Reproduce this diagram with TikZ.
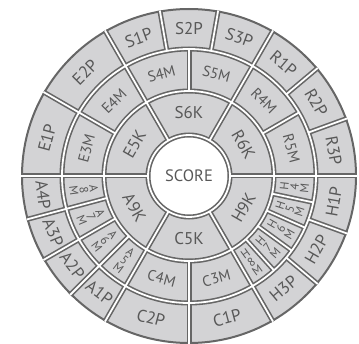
\documentclass[tikz,border=0pt]{standalone}
\usepackage{fontspec}
\setmainfont{PT Sans}
\usetikzlibrary{calc}
\definecolor{segfill}{RGB}{211,211,213}
\definecolor{segline}{RGB}{102,102,102}
\definecolor{txtc}{RGB}{88,88,88}
\tikzset{
  sepdark/.style={draw=segline, line width=5pt},
  seplight/.style={draw=white, line width=1.8pt},
  lab/.style={text=txtc, inner sep=0pt, font=\fontsize{17}{19}\selectfont},
  labk/.style={lab, font=\fontsize{17}{19}\selectfont},
  labm/.style={lab, font=\fontsize{15}{17}\selectfont},
  labs/.style={lab, align=center, font=\fontsize{12}{10}\selectfont},
}
\newcommand\seglab[5]{%
  \pgfmathsetmacro\segrot{#2<180 ? #2-90 : #2-270}%
  \node[#1, rotate=\segrot] (#4) at ($(O)+(#2:#3pt)$) {#5};}
\begin{document}
\begin{tikzpicture}[x=1pt,y=1pt]
\useasboundingbox (0,0) rectangle (359,343);
\coordinate (O) at (189,167);
\fill[segfill] (O) circle[radius=167pt];
\draw[segline, line width=2pt] (O) circle[radius=167pt];
\fill[white] (O) circle[radius=41pt];
\foreach \s in {sepdark,seplight}{
  \draw[\s] (O) circle[radius=41pt] (O) circle[radius=85pt] (O) circle[radius=127pt];
  \foreach \a in {0,60,...,300} \draw[\s] ($(O)+(\a:41pt)$) -- ($(O)+(\a:168pt)$);
  \foreach \a in {150,195,210,225,270} \draw[\s] ($(O)+(\a:85pt)$) -- ($(O)+(\a:168pt)$);
  \foreach \a in {30,90,312,324,336,348} \draw[\s] ($(O)+(\a:85pt)$) -- ($(O)+(\a:127pt)$);
  \foreach \a in {20,40,80,100,320,340} \draw[\s] ($(O)+(\a:127pt)$) -- ($(O)+(\a:168pt)$);
}
\node[lab, font=\fontsize{16.5}{18}\selectfont] (score) at (O) {SCORE};
% outer ring
\seglab{lab}{10}{147}{R3P}{R3P}
\seglab{lab}{30}{147}{R2P}{R2P}
\seglab{lab}{50}{147}{R1P}{R1P}
\seglab{lab}{70}{147}{S3P}{S3P}
\seglab{lab}{90}{147}{S2P}{S2P}
\seglab{lab}{110}{147}{S1P}{S1P}
\seglab{lab}{135}{147}{E2P}{E2P}
\seglab{lab}{165}{147}{E1P}{E1P}
\seglab{lab}{187.5}{147}{A4P}{A4P}
\seglab{lab}{202.5}{147}{A3P}{A3P}
\seglab{lab}{217.5}{147}{A2P}{A2P}
\seglab{lab}{232.5}{147}{A1P}{A1P}
\seglab{lab}{255}{147}{C2P}{C2P}
\seglab{lab}{285}{147}{C1P}{C1P}
\seglab{lab}{310}{147}{H3P}{H3P}
\seglab{lab}{330}{147}{H2P}{H2P}
\seglab{lab}{350}{147}{H1P}{H1P}
% middle ring
\seglab{labm}{15}{106}{R5M}{R5M}
\seglab{labm}{45}{106}{R4M}{R4M}
\seglab{labm}{75}{106}{S5M}{S5M}
\seglab{labm}{105}{106}{S4M}{S4M}
\seglab{labm}{135}{106}{E4M}{E4M}
\seglab{labm}{165}{106}{E3M}{E3M}
\seglab{labm}{255}{106}{C4M}{C4M}
\seglab{labm}{285}{106}{C3M}{C3M}
\seglab{labs}{187.5}{106}{A8M}{A\\8\\M}
\seglab{labs}{202.5}{106}{A7M}{A\\7\\M}
\seglab{labs}{217.5}{106}{A6M}{A\\6\\M}
\seglab{labs}{232.5}{106}{A5M}{A\\5\\M}
\seglab{labs}{306}{106}{H8M}{H\\8\\M}
\seglab{labs}{318}{106}{H7M}{H\\7\\M}
\seglab{labs}{330}{106}{H6M}{H\\6\\M}
\seglab{labs}{342}{106}{H5M}{H\\5\\M}
\seglab{labs}{354}{106}{H4M}{H\\4\\M}
% inner ring
\seglab{labk}{30}{63}{R6K}{R6K}
\seglab{labk}{90}{63}{S6K}{S6K}
\seglab{labk}{150}{63}{E5K}{E5K}
\seglab{labk}{210}{63}{A9K}{A9K}
\seglab{labk}{270}{63}{C5K}{C5K}
\seglab{labk}{330}{63}{H9K}{H9K}
\end{tikzpicture}
\end{document}
